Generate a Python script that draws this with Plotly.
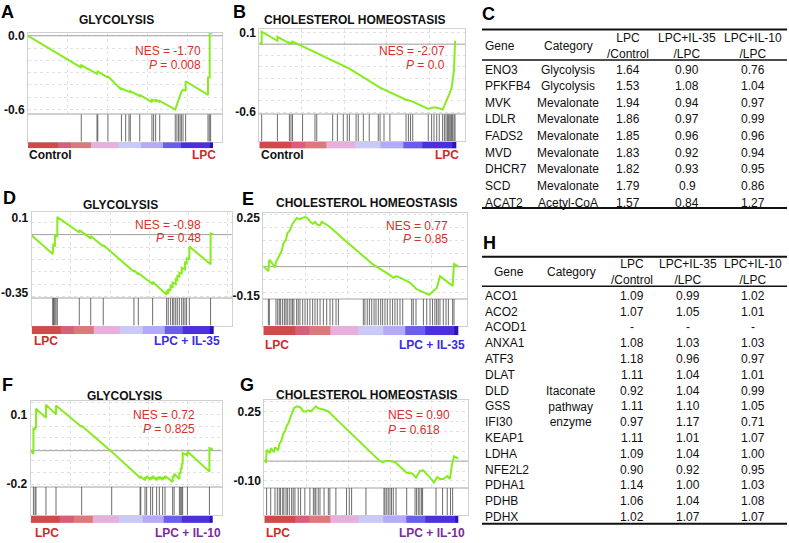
import plotly.graph_objects as go

W, H = 789, 543
FONT = "Liberation Sans, Arial, Helvetica, sans-serif"
GREEN = "#86ec1e"

# ---------------- GSEA data (rank in % of ranked list, running ES) ----------------
titles = ["GLYCOLYSIS", "CHOLESTEROL HOMEOSTASIS", "GLYCOLYSIS",
          "CHOLESTEROL HOMEOSTASIS", "GLYCOLYSIS", "CHOLESTEROL HOMEOSTASIS"]
letters = ["A", "B", "D", "E", "F", "G"]
nes_values = ["-1.70", "-2.07", "-0.98", "0.77", "0.72", "0.90"]
p_values = ["0.008", "0.0", "0.48", "0.85", "0.825", "0.618"]
left_labels = ["Control", "Control", "LPC", "LPC", "LPC", "LPC"]
right_labels = ["LPC", "LPC", "LPC + IL-35", "LPC + IL-35", "LPC + IL-10", "LPC + IL-10"]
y_tick_values = [[0.0, -0.6], [0.1, -0.6], [0.1, -0.35], [0.25, -0.15], [0.1, -0.2], [0.25, -0.10]]
y_tick_text = [["0.0", "-0.6"], ["0.1", "-0.6"], ["0.1", "-0.35"], ["0.25", "-0.15"], ["0.1", "-0.2"], ["0.25", "-0.10"]]
baselines = [0.0, 0.0, 0.0, 0.0, -0.056, 0.0]

A_hits = [28.8, 37.3, 37.7, 43.2, 50.5, 52.8, 54.6, 55.3, 60.4, 67.0, 67.9, 69.0, 71.2,
          79.6, 80.5, 81.4, 82.2, 82.9, 83.8, 85.2, 97.3, 98.0, 98.7]
A_es_x = [0, 28.8, 28.8, 37.3, 37.7, 43.2, 43.2, 50.5, 50.5, 55.3, 55.3, 60.4, 60.4, 67.0, 67.0,
          69.0, 69.0, 71.2, 71.2, 79.6, 80.5, 81.4, 82.2, 82.9, 83.8, 85.2, 85.2, 97.3, 97.3,
          98.2, 98.2, 100]
A_es_y = [0.00, -0.26, -0.24, -0.31, -0.29, -0.34, -0.33, -0.44, -0.43, -0.46, -0.45, -0.49, -0.48,
          -0.54, -0.52, -0.53, -0.52, -0.54, -0.53, -0.60, -0.56, -0.52, -0.48, -0.455, -0.44,
          -0.445, -0.37, -0.48, -0.34, -0.34, 0.027, 0.025]

B_hits = [1.2, 9.2, 15.3, 16.1, 16.9, 22.0, 28.3, 29.2, 37.3, 39.7, 42.7, 44.7, 45.8, 49.2, 50.3,
          52.9, 55.9, 60.5, 61.4, 63.4, 66.4, 74.6, 75.8, 76.9, 78.0, 85.9, 87.6, 88.8, 90.2, 91.5,
          93.2, 94.1, 94.9, 95.6, 96.1, 96.6, 97.3, 97.8, 98.3, 99.0, 99.5]
B_es_x = [0, 1.2, 1.2, 9.2, 9.2, 15.3, 15.3, 16.9, 16.9, 22.0, 29.2, 45.8, 61.4, 74.6, 78.0, 85.9,
          88.8, 91.5, 93.2, 94.1, 94.9, 95.6, 96.6, 97.8, 98.3, 99.0, 99.5, 100]
B_es_y = [0.01, 0.005, 0.11, 0.03, 0.065, 0.007, 0.015, 0.01, 0.022, -0.02, -0.08, -0.215, -0.383,
          -0.49, -0.507, -0.571, -0.557, -0.565, -0.577, -0.542, -0.513, -0.484, -0.44, -0.383,
          -0.325, -0.224, 0.022, 0.022]

D_hits = [11.6, 11.9, 12.3, 12.8, 13.4, 14.1, 26.2, 32.5, 39.4, 56.3, 58.7, 66.6, 74.3, 75.2, 76.5,
          77.6, 78.3, 79.3, 80.2, 81.3, 82.6, 83.5, 84.4, 85.3, 86.8, 98.5]
D_es_x = [0, 11.6, 11.9, 12.8, 12.8, 14.1, 14.1, 26.2, 26.2, 32.5, 32.5, 39.4, 39.4, 56.3, 56.3,
          58.7, 58.7, 66.6, 66.6, 74.3, 74.3, 75.2, 75.2, 76.5, 76.5, 77.6, 77.6, 79.3, 79.3, 80.2,
          80.2, 81.3, 81.3, 82.6, 82.6, 84.4, 84.4, 85.3, 85.3, 86.8, 86.8, 98.5, 98.5, 100]
D_es_y = [-0.005, -0.118, -0.06, -0.065, -0.005, -0.01, 0.106, 0.013, 0.027, -0.023, -0.009, -0.072,
          -0.063, -0.225, -0.215, -0.241, -0.232, -0.30, -0.285, -0.364, -0.345, -0.35, -0.33, -0.34,
          -0.31, -0.315, -0.29, -0.30, -0.27, -0.275, -0.25, -0.255, -0.23, -0.235, -0.20, -0.21,
          -0.17, -0.175, -0.14, -0.15, -0.072, -0.18, 0.007, 0.003]

E_hits = [2.6, 3.1, 6.5, 7.4, 8.2, 8.9, 9.9, 10.8, 11.6, 12.3, 13.3, 14.2, 15.0, 15.7, 17.1, 17.9,
          18.8, 20.2, 21.4, 22.6, 23.9, 25.3, 26.5, 27.7, 29.1, 30.8, 32.5, 34.2, 35.6, 37.3, 38.5,
          51.3, 52.1, 53.3, 54.4, 55.6, 56.8, 57.8, 59.0, 60.2, 61.2, 62.4, 63.6, 65.0, 66.3, 67.5,
          68.7, 70.1, 71.5, 76.1, 76.9, 78.3, 82.1, 83.8, 85.5, 86.8, 88.0, 88.9, 89.7, 90.6, 92.3,
          93.7, 94.9, 97.1, 97.8]
E_es_x = [0, 2.6, 3.1, 6.0, 6.5, 8.2, 9.4, 10.3, 11.6, 12.3, 13.7, 15.0, 16.2, 17.1, 18.8, 19.7,
          21.4, 22.6, 23.9, 25.3, 26.5, 27.7, 29.1, 29.9, 31.6, 34.2, 42.7, 51.3, 56.4, 65.0, 66.7,
          68.4, 70.9, 75.2, 78.6, 83.8, 85.1, 87.2, 88.9, 90.6, 93.7, 97.1, 97.8, 100]
E_es_y = [0.002, -0.023, 0.036, -0.003, 0.024, 0.061, 0.081, 0.12, 0.137, 0.171, 0.188, 0.221, 0.238,
          0.25, 0.243, 0.25, 0.255, 0.25, 0.233, 0.221, 0.23, 0.216, 0.213, 0.23, 0.221, 0.204, 0.128,
          0.053, 0.01, -0.044, -0.057, -0.049, -0.061, -0.082, -0.116, -0.138, -0.145, -0.125,
          -0.111, -0.049, -0.071, -0.099, 0.014, 0.002]

F_hits = [1.5, 2.4, 2.9, 8.4, 13.9, 28.0, 44.5, 60.1, 60.5, 62.8, 63.7, 65.9, 67.0, 69.2, 70.7,
          72.5, 73.8, 78.0, 78.8, 81.7, 82.4, 83.0, 83.5, 86.1, 98.2]
F_es_x = [0, 1.5, 1.5, 2.4, 2.4, 2.9, 2.9, 8.4, 8.4, 13.9, 13.9, 28.0, 28.0, 44.5, 60.1, 60.5, 62.8,
          62.8, 63.7, 63.7, 65.9, 65.9, 67.0, 67.0, 69.2, 69.2, 70.7, 70.7, 72.5, 72.5, 73.8, 73.8,
          78.0, 78.0, 78.8, 78.8, 81.7, 81.7, 82.4, 82.4, 83.0, 83.0, 83.5, 83.5, 86.1, 86.1, 98.2,
          98.2, 100]
F_es_y = [-0.056, -0.07, 0.04, 0.035, 0.045, 0.04, 0.124, 0.085, 0.141, 0.10, 0.138, 0.046, 0.051,
          -0.06, -0.172, -0.168, -0.183, -0.17, -0.176, -0.165, -0.182, -0.17, -0.176, -0.165, -0.183,
          -0.17, -0.178, -0.167, -0.182, -0.17, -0.176, -0.165, -0.19, -0.165, -0.17, -0.155, -0.178,
          -0.15, -0.155, -0.13, -0.135, -0.11, -0.115, -0.066, -0.075, -0.059, -0.146, -0.045, -0.05]

G_hits = [1.2, 3.3, 5.5, 6.7, 7.7, 8.4, 9.5, 10.1, 11.2, 11.9, 12.9, 14.1, 14.9, 15.8, 17.5, 18.7,
          20.9, 23.5, 25.3, 26.1, 26.6, 27.8, 28.7, 30.8, 33.0, 33.8, 36.9, 42.4, 43.8, 45.0, 52.4,
          61.7, 62.2, 63.1, 63.9, 64.8, 65.6, 66.5, 67.9, 73.4, 77.7, 78.5, 79.4, 80.2, 81.1, 81.6,
          88.5, 91.9, 94.3, 96.0, 97.1]
G_es_x = [0, 0.9, 1.2, 2.9, 3.3, 5.0, 5.5, 7.2, 7.7, 8.9, 9.8, 10.7, 11.5, 12.4, 13.2, 14.1, 15.3,
          16.7, 18.7, 20.1, 21.5, 22.7, 24.0, 25.3, 26.6, 27.8, 30.4, 33.0, 35.6, 59.6, 61.3, 62.5,
          64.8, 67.4, 69.9, 73.4, 76.3, 78.2, 80.2, 82.0, 85.4, 87.5, 89.2, 90.5, 92.3, 94.3, 95.7,
          96.6, 97.8, 100]
G_es_y = [0.007, -0.009, 0.057, 0.04, 0.065, 0.045, 0.07, 0.055, 0.085, 0.106, 0.139, 0.15, 0.177,
          0.19, 0.214, 0.24, 0.267, 0.276, 0.27, 0.25, 0.25, 0.256, 0.25, 0.263, 0.276, 0.266, 0.26,
          0.25, 0.225, 0.0, -0.005, 0.0, 0.0, -0.005, -0.026, -0.059, -0.062, -0.083, -0.05, -0.047,
          -0.083, -0.108, -0.08, -0.09, -0.09, -0.075, -0.09, -0.026, 0.024, 0.012]

all_hits = [A_hits, B_hits, D_hits, E_hits, F_hits, G_hits]
all_es_x = [A_es_x, B_es_x, D_es_x, E_es_x, F_es_x, G_es_x]
all_es_y = [A_es_y, B_es_y, D_es_y, E_es_y, F_es_y, G_es_y]

# ranked-list colour bar bands
band_edges = [0, 16.2, 23.4, 34.2, 48.6, 61.3, 73.0, 82.9, 98.2, 100]
band_levels = [0, 1, 2, 3, 4, 5, 6, 7, 8]

# ---------------- table data ----------------
table_headers = ["Gene", "Category", "LPC<br>/Control", "LPC+IL-35<br>/LPC", "LPC+IL-10<br>/LPC"]
c_genes = ["ENO3", "PFKFB4", "MVK", "LDLR", "FADS2", "MVD", "DHCR7", "SCD", "ACAT2"]
c_category = ["Glycolysis", "Glycolysis", "Mevalonate", "Mevalonate", "Mevalonate", "Mevalonate",
              "Mevalonate", "Mevalonate", "Acetyl-CoA"]
c_lpc_ctrl = ["1.64", "1.53", "1.94", "1.86", "1.85", "1.83", "1.82", "1.79", "1.57"]
c_il35 = ["0.90", "1.08", "0.94", "0.97", "0.96", "0.92", "0.93", "0.9", "0.84"]
c_il10 = ["0.76", "1.04", "0.97", "0.99", "0.96", "0.94", "0.95", "0.86", "1.27"]

h_genes = ["ACO1", "ACO2", "ACOD1", "ANXA1", "ATF3", "DLAT", "DLD", "GSS", "IFI30", "KEAP1",
           "LDHA", "NFE2L2", "PDHA1", "PDHB", "PDHX"]
h_category = "Itaconate<br>pathway<br>enzyme"
h_lpc_ctrl = ["1.09", "1.07", "-", "1.08", "1.18", "1.11", "0.92", "1.11", "0.97", "1.11", "1.09",
              "0.90", "1.14", "1.06", "1.02"]
h_il35 = ["0.99", "1.05", "-", "1.03", "0.96", "1.04", "1.04", "1.10", "1.17", "1.01", "1.04",
          "0.92", "1.00", "1.04", "1.07"]
h_il10 = ["1.02", "1.01", "-", "1.03", "0.97", "1.01", "0.99", "1.05", "0.71", "1.07", "1.00",
          "0.95", "1.03", "1.08", "1.07"]

# ---------------- layout geometry (pixels) ----------------
geom = [
    dict(x0=28.0, x100=213.0, xr=222.0, top=29.5, bot=112, hb=140, cb=147, t=(32.3, 107.3),
         letter=(8, 8), title=(117, 16), nes=(203, 48, 62, "right"), lab=(154, 27, 218), minor=0.1),
    dict(x0=259.3, x100=456.0, xr=465.0, top=25, bot=112, hb=139.5, cb=147, t=(29.3, 110.0),
         letter=(239, 8), title=(355, 16), nes=(447, 48, 62, "right"), lab=(154, 259, 461), minor=0.1),
    dict(x0=31.7, x100=213.3, xr=231.7, top=212, bot=299, hb=327, cb=336, t=(217.7, 293.3),
         letter=(9, 197), title=(121, 204), nes=(203, 225, 238, "right"), lab=(343, 32, 222), minor=0.075),
    dict(x0=263.3, x100=458.3, xr=467.0, top=213, bot=300, hb=327, cb=337, t=(217.7, 296.7),
         letter=(248, 198), title=(367, 202), nes=(450, 226, 239, "right"), lab=(347, 263, 467), minor=0.067),
    dict(x0=30.7, x100=212.7, xr=221.7, top=404, bot=491, hb=520, cb=528, t=(417.3, 488.3),
         letter=(8, 387), title=(124, 399), nes=(197, 418, 432, "right"), lab=(538, 33, 223), minor=0.05),
    dict(x0=264.3, x100=458.3, xr=468.3, top=403, bot=491.7, hb=520, cb=528, t=(414.3, 485.0),
         letter=(247, 387), title=(367, 398), nes=(386, 418, 433, "left"), lab=(538, 264, 467), minor=0.05),
]
right_colors = ["#cf2a2a", "#cf2a2a", "#3b2de6", "#3b2de6", "#7a2c9c", "#7a2c9c"]
left_colors = ["#111111", "#111111", "#cf2a2a", "#cf2a2a", "#cf2a2a", "#cf2a2a"]
band_colors = ["#d04a4a", "#d6607a", "#db7a7a", "#e9afdc", "#cacaf8", "#b3abf7", "#6a5fea",
               "#4b31dc", "#2c12b8"]
NES_RED = "#d6302c"


def px(x):
    return x / W


def py(y):
    return 1 - y / H


def sfx(n):
    return "" if n == 1 else str(n)


def ann(text, x, y, size=12, color="#111111", xanchor="center"):
    return dict(text=text, x=px(x), y=py(y), xref="paper", yref="paper", xanchor=xanchor,
                yanchor="middle", showarrow=False, font=dict(family=FONT, size=size, color=color))


fig = go.Figure()
layout = dict(width=W, height=H, margin=dict(l=0, r=0, t=0, b=0), plot_bgcolor="white",
              paper_bgcolor="white", showlegend=False)
annotations = []
shapes = []

ncol = len(band_colors)
colorscale = []
for k, c in enumerate(band_colors):
    colorscale.append([k / ncol, c])
    colorscale.append([(k + 1) / ncol, c])

for i in range(6):
    g = geom[i]
    xmax = (g["xr"] - g["x0"]) / (g["x100"] - g["x0"]) * 100
    v1, v2 = y_tick_values[i]
    p1, p2 = g["t"]
    upp = (v1 - v2) / (p2 - p1)
    ytop = v1 + (p1 - g["top"]) * upp
    ybot = v1 - (g["bot"] - p1) * upp
    n1, n2, n3 = 3 * i + 1, 3 * i + 2, 3 * i + 3
    xdom = [px(g["x0"]), px(g["xr"])]

    # running enrichment score panel
    layout["xaxis" + sfx(n1)] = dict(domain=xdom, range=[0, xmax], anchor="y" + sfx(n1),
                                    showticklabels=False, ticks="", showgrid=True,
                                    gridcolor="#e2e2e2", griddash="dot", tick0=0, dtick=21.6,
                                    zeroline=False, showline=True, mirror=True,
                                    linecolor="#d0d0d0", linewidth=1)
    layout["yaxis" + sfx(n1)] = dict(domain=[py(g["bot"]), py(g["top"])], range=[ybot, ytop],
                                    anchor="x" + sfx(n1), tickmode="array",
                                    tickvals=y_tick_values[i],
                                    ticktext=["<b>%s</b>" % t for t in y_tick_text[i]],
                                    tickfont=dict(family=FONT, size=12, color="#111111"),
                                    ticks="", ticklen=0, showgrid=False, zeroline=False,
                                    showline=True, mirror=True, linecolor="#d0d0d0",
                                    minor=dict(dtick=g["minor"], tick0=0, showgrid=True,
                                               gridcolor="#e2e2e2", griddash="dot"))
    # zero (baseline) reference line, then the running ES curve
    fig.add_trace(go.Scatter(x=[0, xmax], y=[baselines[i], baselines[i]], mode="lines",
                             line=dict(color="#a0a0a0", width=1), hoverinfo="skip",
                             xaxis="x" + sfx(n1), yaxis="y" + sfx(n1)))
    fig.add_trace(go.Scatter(x=all_es_x[i], y=all_es_y[i], mode="lines", cliponaxis=False,
                             line=dict(color=GREEN, width=2), hoverinfo="skip",
                             xaxis="x" + sfx(n1), yaxis="y" + sfx(n1)))

    # hit lines
    layout["xaxis" + sfx(n2)] = dict(domain=xdom, range=[0, xmax], anchor="y" + sfx(n2),
                                    showticklabels=False, ticks="", showgrid=False,
                                    zeroline=False, showline=True, mirror=True,
                                    linecolor="#d0d0d0")
    layout["yaxis" + sfx(n2)] = dict(domain=[py(g["hb"]), py(g["bot"])], range=[0, 1],
                                    anchor="x" + sfx(n2), showticklabels=False, ticks="",
                                    showgrid=False, zeroline=False, showline=True, mirror=True,
                                    linecolor="#d0d0d0")
    hx, hy = [], []
    for h in all_hits[i]:
        hx += [h, h, None]
        hy += [0, 1, None]
    fig.add_trace(go.Scatter(x=hx, y=hy, mode="lines",
                             line=dict(color="rgba(60,60,60,0.75)", width=1), hoverinfo="skip",
                             xaxis="x" + sfx(n2), yaxis="y" + sfx(n2)))

    # ranked list colour bar
    layout["xaxis" + sfx(n3)] = dict(domain=xdom, range=[0, xmax], anchor="y" + sfx(n3),
                                    visible=False)
    layout["yaxis" + sfx(n3)] = dict(domain=[py(g["cb"]), py(g["hb"] + 0.5)], range=[0, 1],
                                    anchor="x" + sfx(n3), visible=False)
    fig.add_trace(go.Heatmap(z=[band_levels], x=band_edges, y=[0, 1], colorscale=colorscale,
                             zmin=-0.5, zmax=ncol - 0.5, showscale=False, hoverinfo="skip",
                             xaxis="x" + sfx(n3), yaxis="y" + sfx(n3)))

    # texts
    annotations.append(ann("<b>%s</b>" % letters[i], g["letter"][0], g["letter"][1], size=18,
                           color="#000000"))
    annotations.append(ann("<b>%s</b>" % titles[i], g["title"][0], g["title"][1], size=12))
    nx, ny1, ny2, al = g["nes"]
    annotations.append(ann("NES = %s" % nes_values[i], nx, ny1, size=12, color=NES_RED, xanchor=al))
    annotations.append(ann("<i>P</i> = %s" % p_values[i], nx, ny2, size=12, color=NES_RED,
                           xanchor=al))
    ly, lx, rx = g["lab"]
    annotations.append(ann("<b>%s</b>" % left_labels[i], lx, ly, size=12, color=left_colors[i],
                           xanchor="left"))
    annotations.append(ann("<b>%s</b>" % right_labels[i], rx, ly, size=12, color=right_colors[i],
                           xanchor="right"))

# ---------------- tables ----------------
TBL_L, TBL_R = 482, 787


def hline(y, w):
    shapes.append(dict(type="line", xref="paper", yref="paper", x0=px(TBL_L), x1=px(TBL_R),
                       y0=py(y), y1=py(y), line=dict(color="#111111", width=w)))


# table C
annotations.append(ann("<b>C</b>", 488, 10, size=18, color="#000000"))
hline(26, 2)
hline(57, 1.5)
hline(207.5, 2)
c_cols = [568, 628, 687, 753]
annotations.append(ann(table_headers[0], 483, 43, xanchor="left"))
for k, hdr in enumerate(table_headers[1:]):
    annotations.append(ann(hdr, c_cols[k], 42.5))
for r in range(len(c_genes)):
    yy = 66.7 + r * 16.9
    annotations.append(ann(c_genes[r], 483, yy, xanchor="left"))
    annotations.append(ann(c_category[r], c_cols[0], yy))
    annotations.append(ann(c_lpc_ctrl[r], c_cols[1], yy))
    annotations.append(ann(c_il35[r], c_cols[2], yy))
    annotations.append(ann(c_il10[r], c_cols[3], yy))

# table H
annotations.append(ann("<b>H</b>", 489, 243, size=18, color="#000000"))
hline(257, 2)
hline(287, 1.5)
hline(528.5, 2)
h_cols = [571, 632, 688, 753]
annotations.append(ann(table_headers[0], 509, 272.7))
for k, hdr in enumerate(table_headers[1:]):
    annotations.append(ann(hdr, h_cols[k], 272.7))
for r in range(len(h_genes)):
    yy = 296.7 + r * 16.07
    annotations.append(ann(h_genes[r], 483, yy, xanchor="left"))
    annotations.append(ann(h_lpc_ctrl[r], h_cols[1], yy))
    annotations.append(ann(h_il35[r], h_cols[2], yy))
    annotations.append(ann(h_il10[r], h_cols[3], yy))
annotations.append(ann(h_category, h_cols[0], 296.7 + 7 * 16.07))

layout["annotations"] = annotations
layout["shapes"] = shapes
fig.update_layout(**layout)
fig.write_html("out.html", config={"displayModeBar": False},
               post_script="document.body.style.margin='0';document.body.style.overflow='hidden';")
